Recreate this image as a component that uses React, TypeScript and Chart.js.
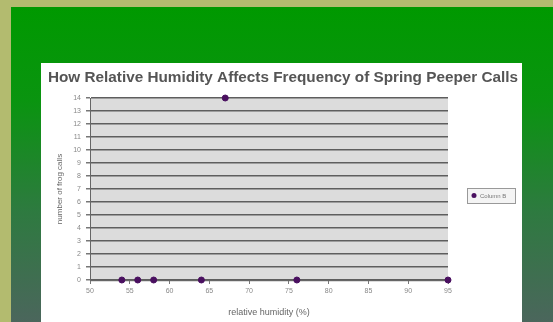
import React, { useEffect, useRef } from "react";
import { Chart, registerables } from "chart.js";

Chart.register(...registerables);

const chartTitle = "How Relative Humidity Affects Frequency of Spring Peeper Calls";
const seriesLabel = "Column B";
const humidity = [54, 56, 58, 64, 67, 76, 95];
const frogCalls = [0, 0, 0, 0, 14, 0, 0];
const xTicks = [50, 55, 60, 65, 70, 75, 80, 85, 90, 95];
const yMax = 14;

const POINT = "#4a1060";
const FONT = "'Liberation Sans', Arial, sans-serif";

export default function App() {
  const ref = useRef<HTMLCanvasElement | null>(null);

  useEffect(() => {
    document.body.style.margin = "0";
    const canvas = ref.current;
    if (!canvas) return;

    const plotBg = {
      id: "plotBg",
      beforeDraw(chart: any) {
        const { ctx, chartArea } = chart;
        ctx.save();
        ctx.fillStyle = "#dcdcdc";
        ctx.fillRect(chartArea.left, chartArea.top, chartArea.right - chartArea.left, chartArea.bottom - chartArea.top + 2);
        ctx.restore();
      },
    };

    const titleAndLegend = {
      id: "titleAndLegend",
      afterDraw(chart: any) {
        const { ctx } = chart;
        const ds = chart.data.datasets[0];
        ctx.save();
        // title
        ctx.fillStyle = "#555555";
        ctx.font = `bold 15.3px ${FONT}`;
        ctx.textAlign = "center";
        ctx.textBaseline = "middle";
        ctx.fillText(chartTitle, 242, 15);
        // legend
        const x = 426, y = 125, w = 48, h = 15;
        ctx.fillStyle = "#f4f4f4";
        ctx.fillRect(x, y, w, h);
        ctx.strokeStyle = "#999";
        ctx.lineWidth = 1;
        ctx.strokeRect(x + 0.5, y + 0.5, w, h);
        ctx.fillStyle = POINT;
        ctx.beginPath();
        ctx.arc(x + 7, y + h / 2, 2.5, 0, Math.PI * 2);
        ctx.fill();
        ctx.fillStyle = "#777";
        ctx.font = `6px ${FONT}`;
        ctx.textAlign = "left";
        ctx.fillText(ds.label, x + 13, y + h / 2 + 0.5);
        ctx.restore();
      },
    };

    const chart = new Chart(canvas, {
      type: "scatter",
      data: {
        datasets: [
          {
            label: seriesLabel,
            data: humidity.map((h, i) => ({ x: h, y: frogCalls[i] })),
            backgroundColor: POINT,
            borderColor: POINT,
            pointRadius: 3,
            pointHoverRadius: 3,
            clip: false as any,
          },
        ],
      },
      options: {
        animation: false,
        responsive: false,
        maintainAspectRatio: false,
        layout: { padding: { left: 0, right: 74, top: 35, bottom: 0 } },
        plugins: {
          legend: { display: false },
          tooltip: { enabled: false },
          title: { display: false },
        },
        scales: {
          x: {
            type: "linear",
            min: 50,
            max: 95,
            afterFit(scale: any) {
              scale.height = 42;
            },
            afterBuildTicks(scale: any) {
              scale.ticks = xTicks.map((v) => ({ value: v }));
            },
            grid: {
              drawOnChartArea: false,
              drawTicks: true,
              tickLength: 4,
              tickColor: "#777",
            },
            border: { display: true, color: "#666", width: 1 },
            ticks: {
              color: "#888",
              font: { family: FONT, size: 7 },
              padding: 3,
              maxRotation: 0,
            },
            title: {
              display: true,
              text: "relative humidity (%)",
              color: "#666",
              font: { family: FONT, size: 9 },
              padding: { top: 0, bottom: 4 },
            },
          },
          y: {
            type: "linear",
            min: 0,
            max: yMax,
            afterFit(scale: any) {
              scale.width = 49;
            },
            ticks: {
              stepSize: 1,
              color: "#888",
              font: { family: FONT, size: 7 },
              padding: 5,
            },
            grid: {
              color: "#5e5e5e",
              lineWidth: 1.5,
              tickLength: 4,
              tickColor: "#777",
            },
            border: { display: true, color: "#666", width: 1 },
            title: {
              display: true,
              text: "number of frog calls",
              color: "#666",
              font: { family: FONT, size: 8 },
              padding: { top: 14, bottom: 0 },
            },
          },
        },
      },
      plugins: [plotBg, titleAndLegend],
    });

    return () => chart.destroy();
  }, []);

  return (
    <div
      style={{
        position: "relative",
        width: 553,
        height: 322,
        background: "#b3bb6f",
        overflow: "hidden",
      }}
    >
      <div
        style={{
          position: "absolute",
          left: 11,
          top: 7,
          width: 542,
          height: 315,
          background: "linear-gradient(to bottom, #009900 0%, #0a9410 30%, #2e7a40 65%, #4b665c 100%)",
        }}
      />
      <div
        style={{
          position: "absolute",
          left: 41,
          top: 63,
          width: 481,
          height: 259,
          background: "#ffffff",
        }}
      >
        <canvas ref={ref} width={481} height={259} style={{ display: "block" }} />
      </div>
    </div>
  );
}
